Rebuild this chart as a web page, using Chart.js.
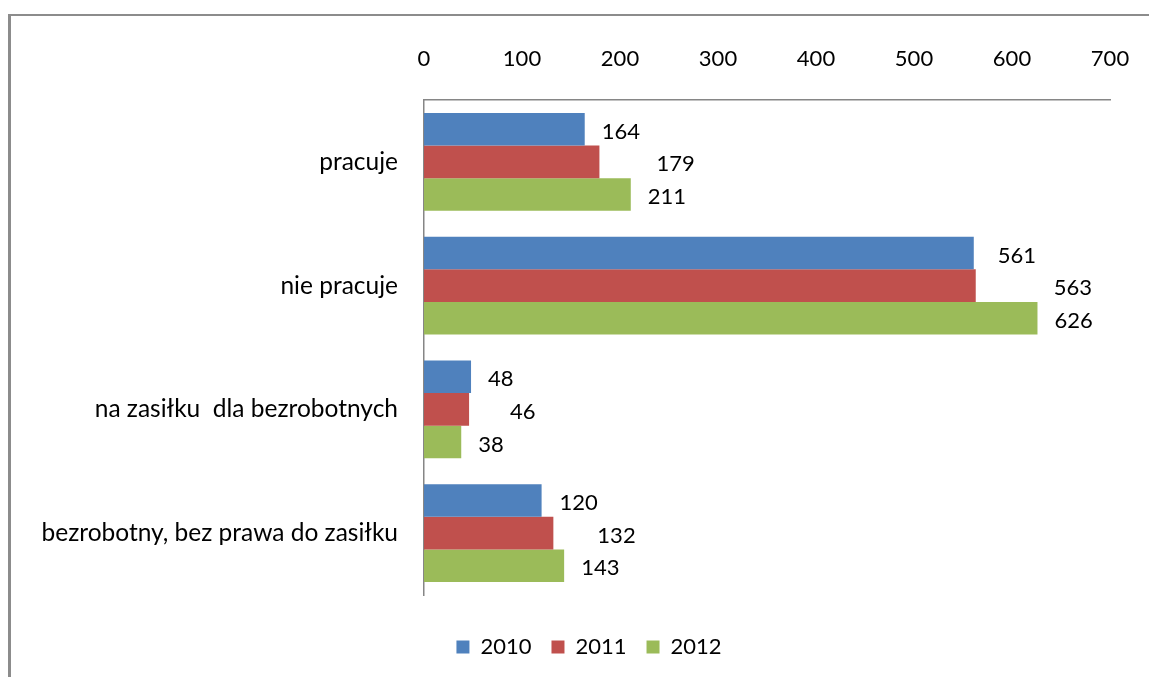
<!DOCTYPE html>
<html>
<head>
<meta charset="utf-8">
<script src="https://cdn.jsdelivr.net/npm/chart.js@4/dist/chart.umd.min.js"></script>
<style>
  html, body { margin: 0; padding: 0; background: #ffffff; }
  #wrap { width: 1149px; height: 677px; }
</style>
</head>
<body>
<div id="wrap"><canvas id="c" width="1149" height="677"></canvas></div>
<script>
// ---- data ----
const categories = ['pracuje', 'nie pracuje', 'na zasiłku  dla bezrobotnych', 'bezrobotny, bez prawa do zasiłku'];
const seriesNames = ['2010', '2011', '2012'];
const values2010 = [164, 561, 48, 120];
const values2011 = [179, 563, 46, 132];
const values2012 = [211, 626, 38, 143];
const xTicks = [0, 100, 200, 300, 400, 500, 600, 700];

const FONT = 'Lato, "Open Sans", sans-serif';
const colors = ['#4F81BD', '#C0504D', '#9BBB59'];

const framePlugin = {
  id: 'frame',
  beforeDraw(chart) {
    const ctx = chart.ctx;
    ctx.save();
    ctx.strokeStyle = '#8c8c8c';
    ctx.lineWidth = 3;
    ctx.beginPath();
    ctx.moveTo(9.5, chart.height);
    ctx.lineTo(9.5, 15);
    ctx.stroke();
    ctx.lineWidth = 2;
    ctx.beginPath();
    ctx.moveTo(8, 15);
    ctx.lineTo(chart.width, 15);
    ctx.stroke();
    ctx.restore();
  }
};

// shifts the bottom legend horizontally (the legend in the original is not centred on the canvas)
const legendShift = {
  id: 'legendShift',
  afterLayout(chart, args, opts) {
    const lg = chart.legend;
    if (!lg) return;
    lg.left += opts.dx;
    lg.right += opts.dx;
  }
};

const valueLabels = {
  id: 'valueLabels',
  afterDatasetsDraw(chart, args, opts) {
    const ctx = chart.ctx;
    ctx.save();
    ctx.font = '22px ' + FONT;
    ctx.fillStyle = '#000000';
    ctx.textAlign = 'left';
    ctx.textBaseline = 'middle';
    chart.data.datasets.forEach((ds, di) => {
      const meta = chart.getDatasetMeta(di);
      meta.data.forEach((bar, i) => {
        const extra = (opts.nudge[di] && opts.nudge[di][i]) || 0;
        ctx.fillText(String(ds.data[i]), bar.x + opts.gap + extra, bar.y + 2.5);
      });
    });
    ctx.restore();
  }
};

new Chart(document.getElementById('c'), {
  type: 'bar',
  data: {
    labels: categories,
    datasets: [
      { label: seriesNames[0], data: values2010, backgroundColor: colors[0] },
      { label: seriesNames[1], data: values2011, backgroundColor: colors[1] },
      { label: seriesNames[2], data: values2012, backgroundColor: colors[2] }
    ]
  },
  options: {
    indexAxis: 'y',
    responsive: false,
    devicePixelRatio: 1,
    animation: false,
    categoryPercentage: 0.79,
    barPercentage: 1.0,
    layout: { padding: { left: 30, right: 39, top: 0, bottom: 9 } },
    scales: {
      x: {
        position: 'top',
        min: 0,
        max: 700,
        afterBuildTicks(scale) { scale.ticks = xTicks.map(v => ({ value: v })); },
        afterFit(scale) { scale.height = 100; },
        grid: { display: false, drawTicks: false },
        border: { display: true, color: '#868686', width: 1.5 },
        ticks: { color: '#000000', font: { family: FONT, size: 22, lineHeight: 2.73 }, padding: 11, maxRotation: 0 }
      },
      y: {
        afterFit(scale) { scale.width = 394; },
        grid: { display: false, drawTicks: false },
        border: { display: true, color: '#868686', width: 1.5 },
        ticks: { color: '#000000', font: { family: FONT, size: 24.5 }, padding: 26 }
      }
    },
    plugins: {
      legend: {
        position: 'bottom',
        title: { display: true, text: '', font: { size: 10 }, padding: { top: 9, bottom: 0 } },
        labels: {
          boxWidth: 13,
          boxHeight: 13,
          padding: 20,
          color: '#000000',
          font: { family: FONT, size: 22 }
        }
      },
      legendShift: { dx: 19 },
      tooltip: { enabled: false },
      valueLabels: {
        gap: 17,
        nudge: [[0, 7, 0, 1], [40, 61, 24, 27], [0, 0, 0, 0]]
      }
    }
  },
  plugins: [framePlugin, legendShift, valueLabels]
});
</script>
</body>
</html>
